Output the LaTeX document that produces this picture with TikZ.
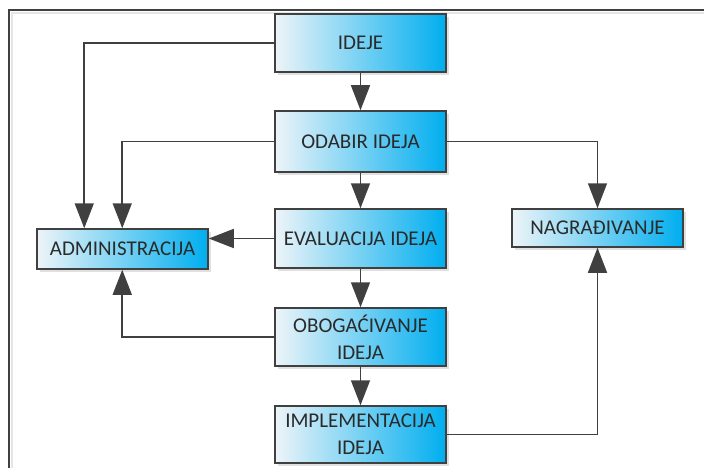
\documentclass[tikz,border=0pt]{standalone}
\usepackage{fontspec}
\setmainfont{Carlito}
\usetikzlibrary{arrows.meta,shadows}
\definecolor{edge}{HTML}{404040}
\definecolor{boxlight}{HTML}{EDF4F8}
\definecolor{boxcyan}{HTML}{00AEEF}
\definecolor{txt}{HTML}{2A2A2A}
\begin{document}
\begin{tikzpicture}[x=1pt,y=-1pt,
  box/.style={draw=edge, line width=1.5pt, left color=boxlight, right color=boxcyan,
    minimum width=171pt, inner sep=0pt, align=center, text=txt,
    font=\fontsize{21}{27}\selectfont,
    drop shadow={shadow xshift=3pt, shadow yshift=-3pt, fill=black!12, opacity=1}},
  conn/.style={draw=edge, line width=1.6pt, -{Triangle[length=25pt,width=19pt]}},
  line/.style={draw=edge, line width=1.6pt}]
\useasboundingbox (0,0) rectangle (704,468);
% frame
\draw[black!10, line width=2pt] (12,468) -- (12,13) -- (704,13);
\draw[edge, line width=2pt] (9,468) -- (9,10) -- (704,10);
% nodes
\node[box, minimum height=58pt] (ideje) at (360.5,43) {IDEJE};
\node[box, minimum height=61pt] (odabir) at (360.5,141.5) {ODABIR IDEJA};
\node[box, minimum height=59pt] (eval) at (360.5,238.5) {EVALUACIJA IDEJA};
\node[box, minimum height=58pt] (obog) at (360.5,337) {OBOGAĆIVANJE\\IDEJA};
\node[box, minimum height=57pt] (impl) at (360.5,434.5) {IMPLEMENTACIJA\\IDEJA};
\node[box, minimum height=40pt] (admin) at (122.5,249) {ADMINISTRACIJA};
\node[box, minimum height=38pt] (nagr) at (597.5,228) {NAGRAĐIVANJE};
% connectors
\draw[conn] (ideje) -- (odabir);
\draw[conn] (odabir) -- (eval);
\draw[conn] (eval) -- (obog);
\draw[conn] (obog) -- (impl);
\draw[conn] (ideje.west) -| ([xshift=48pt]admin.north west);
\draw[conn] (odabir.west) -| ([xshift=86pt]admin.north west);
\draw[conn] (eval.west) -- (eval.west -| admin.east);
\draw[conn] (obog.west) -| ([xshift=86pt]admin.south west);
\draw[conn] (odabir.east) -| (nagr.north);
\draw[conn] (impl.east) -| (nagr.south);
\end{tikzpicture}
\end{document}
